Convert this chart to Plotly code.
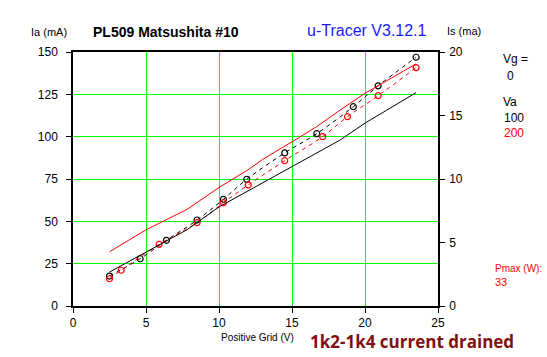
import plotly.graph_objects as go

# Anode current markers (left axis, mA)
va100_vg = [2.5, 4.6, 6.4, 8.5, 10.3, 11.9, 14.5, 16.7, 19.2, 20.9, 23.5]
va100_ia = [17.7, 27.9, 38.8, 50.8, 63.0, 74.8, 90.4, 101.8, 117.7, 130.0, 146.9]
va200_vg = [2.5, 3.3, 5.9, 8.5, 10.3, 12.0, 14.5, 17.1, 18.8, 20.9, 23.5]
va200_ia = [16.1, 21.1, 36.4, 49.2, 61.0, 71.5, 85.8, 100.0, 111.8, 124.2, 140.8]

# Screen current (right axis, mA)
is100_vg = [2.5, 5.0, 7.8, 10.0, 12.1, 15.0, 18.3, 20.0, 23.5]
is100 = [2.67, 4.27, 6.0, 7.8, 9.13, 10.97, 13.07, 14.4, 16.8]
is200_vg = [2.5, 5.0, 7.8, 10.0, 12.0, 13.0, 15.0, 16.7, 18.3, 20.0, 23.5]
is200 = [4.27, 6.0, 7.6, 9.33, 10.73, 11.55, 12.93, 14.13, 15.43, 16.75, 19.07]

x_ticks = [0, 5, 10, 15, 20, 25]
y_ticks = [0, 25, 50, 75, 100, 125, 150]
y2_ticks = [0, 5, 10, 15, 20]

FONT = "Liberation Sans, Arial, sans-serif"
GREEN = "#00ff00"

fig = go.Figure()
fig.add_trace(go.Scatter(x=va100_vg, y=va100_ia, mode="lines+markers",
                         line=dict(color="black", width=1, dash="4px,4px", shape="spline"),
                         marker=dict(symbol="circle-open", size=6, color="black", line=dict(width=1.2))))
fig.add_trace(go.Scatter(x=va200_vg, y=va200_ia, mode="lines+markers",
                         line=dict(color="red", width=1, dash="4px,4px", shape="spline"),
                         marker=dict(symbol="circle-open", size=6, color="red", line=dict(width=1.2))))
fig.add_trace(go.Scatter(x=is100_vg, y=is100, mode="lines", yaxis="y2",
                         line=dict(color="black", width=1)))
fig.add_trace(go.Scatter(x=is200_vg, y=is200, mode="lines", yaxis="y2",
                         line=dict(color="red", width=1)))

axis_common = dict(showline=True, linecolor="black", linewidth=1.5, ticks="outside",
                   ticklen=5, tickcolor="black", zeroline=False,
                   tickfont=dict(family=FONT, size=12, color="black"))

fig.update_layout(
    width=547, height=357,
    margin=dict(l=73, r=109, t=52, b=51),
    paper_bgcolor="white", plot_bgcolor="white",
    showlegend=False,
    font=dict(family=FONT, size=12, color="black"),
    xaxis=dict(range=[0, 25], tickvals=x_ticks, showgrid=True, gridcolor=GREEN, gridwidth=1,
               mirror=True, **axis_common),
    yaxis=dict(range=[0, 150], tickvals=y_ticks, showgrid=True, gridcolor=GREEN, gridwidth=1,
               ticklabelstandoff=6, **axis_common),
    yaxis2=dict(range=[0, 20], tickvals=y2_ticks, overlaying="y", side="right",
                showgrid=False, ticklabelstandoff=2, **axis_common),
)

def ann(text, x, y, size=11, color="black", bold=False, xanchor="left", family=FONT):
    if bold:
        text = "<b>" + text + "</b>"
    fig.add_annotation(text=text, x=x, y=y, xref="paper", yref="paper",
                       xanchor=xanchor, yanchor="middle", showarrow=False,
                       font=dict(family=family, size=size, color=color))

def px(xp):
    return (xp - 73) / 365.0

def py(yp):
    return (306 - yp) / 254.0

ann("Ia (mA)", px(29), py(32), size=11)
ann("PL509 Matsushita #10", px(91), py(32), size=14, bold=True)
ann("u-Tracer V3.12.1", px(305), py(31), size=16, color="#1a1aff")
ann("Is (ma)", px(445), py(31), size=11)
ann("Vg =", px(501), py(59), size=12)
ann("0", px(505), py(76), size=12)
ann("Va", px(501), py(102), size=12)
ann("100", px(502), py(118), size=12)
ann("200", px(502), py(133), size=12, color="red")
ann("Pmax (W):", px(493), py(268), size=10, color="red")
ann("33", px(493), py(282), size=11, color="red")
ann("Positive Grid (V)", px(219), py(337), size=10)
ann("1k2-1k4 current drained", px(308), py(341), size=17, color="#801010", bold=True,
    family="Open Sans, DejaVu Sans, sans-serif")

fig.write_html("out.html")
